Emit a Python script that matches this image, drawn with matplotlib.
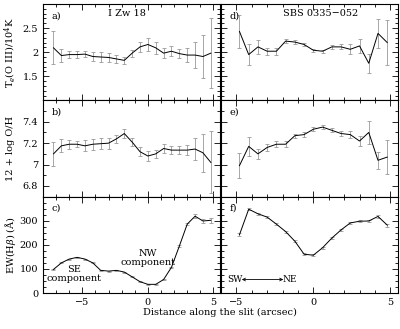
import matplotlib
matplotlib.use("Agg")
import matplotlib.pyplot as plt
from matplotlib.ticker import MultipleLocator

plt.rcParams['font.family'] = ['DejaVu Serif']
plt.rcParams['mathtext.fontset'] = 'dejavuserif'

# I Zw 18 (left column)
x_izw = [-7.2, -6.6, -6.0, -5.4, -4.8, -4.2, -3.6, -3.0, -2.4, -1.8, -1.2,
         -0.6, 0.0, 0.6, 1.2, 1.8, 2.4, 3.0, 3.6, 4.2, 4.8]
te_izw = [2.09, 1.93, 1.95, 1.95, 1.96, 1.91, 1.90, 1.89, 1.86, 1.83, 1.98,
          2.11, 2.16, 2.09, 1.98, 2.02, 1.97, 1.94, 1.94, 1.91, 1.98]
te_izw_err = [0.34, 0.13, 0.08, 0.07, 0.07, 0.10, 0.10, 0.10, 0.08, 0.07, 0.07,
              0.10, 0.13, 0.12, 0.10, 0.10, 0.10, 0.14, 0.27, 0.45, 0.73]
oh_izw = [7.10, 7.175, 7.19, 7.19, 7.175, 7.19, 7.195, 7.20, 7.24, 7.29, 7.21,
          7.12, 7.08, 7.10, 7.15, 7.135, 7.135, 7.135, 7.145, 7.11, 7.02]
oh_izw_err = [0.11, 0.06, 0.04, 0.03, 0.05, 0.05, 0.05, 0.05, 0.04, 0.04, 0.04,
              0.04, 0.05, 0.04, 0.04, 0.04, 0.04, 0.05, 0.10, 0.18, 0.29]
ew_izw = [98, 125, 141, 148, 141, 125, 94, 91, 94, 87, 67,
          47, 36, 36, 56, 107, 195, 286, 319, 299, 302]
ew_izw_err = [2, 2, 2, 2, 2, 2, 2, 2, 2, 2, 2,
              2, 2, 2, 2, 2, 3, 5, 8, 10, 10]

# SBS 0335-052 (right column)
x_sbs = [-4.8, -4.2, -3.6, -3.0, -2.4, -1.8, -1.2, -0.6, 0.0, 0.6, 1.2,
         1.8, 2.4, 3.0, 3.6, 4.2, 4.8]
te_sbs = [2.43, 1.95, 2.11, 2.02, 2.02, 2.23, 2.21, 2.16, 2.04, 2.02, 2.11,
          2.11, 2.06, 2.13, 1.77, 2.39, 2.20]
te_sbs_err = [0.34, 0.21, 0.14, 0.07, 0.07, 0.04, 0.04, 0.03, 0.03, 0.03, 0.04,
              0.05, 0.10, 0.14, 0.20, 0.30, 0.46]
oh_sbs = [6.99, 7.17, 7.10, 7.16, 7.19, 7.19, 7.27, 7.28, 7.33, 7.35, 7.32,
          7.29, 7.28, 7.22, 7.30, 7.04, 7.07]
oh_sbs_err = [0.12, 0.09, 0.05, 0.03, 0.03, 0.03, 0.02, 0.02, 0.02, 0.02, 0.02,
              0.02, 0.03, 0.05, 0.11, 0.08, 0.16]
ew_sbs = [242, 348, 329, 315, 286, 255, 215, 161, 157, 188, 228,
          262, 291, 298, 299, 318, 282]
ew_sbs_err = [6, 5, 4, 4, 4, 4, 4, 4, 4, 4, 4,
              4, 4, 4, 5, 6, 6]

fig = plt.figure(figsize=(4.0, 3.29), dpi=100)

lefts = [0.1075, 0.5525]
width = 0.4425
bottom0 = 0.1094
h = 0.2928
fs = 7

cols = [
    (x_izw, [(te_izw, te_izw_err), (oh_izw, oh_izw_err), (ew_izw, ew_izw_err)], (-8, 5.5)),
    (x_sbs, [(te_sbs, te_sbs_err), (oh_sbs, oh_sbs_err), (ew_sbs, ew_sbs_err)], (-6, 5.5)),
]
ylims = [(1.0, 3.0), (6.7, 7.6), (0, 400)]
yticks = [[1.5, 2, 2.5], [6.8, 7.0, 7.2, 7.4], [0, 100, 200, 300]]
ytlabels = [['1.5', '2', '2.5'], ['6.8', '7', '7.2', '7.4'], ['0', '100', '200', '300']]
ymin = [0.1, 0.1, 25]
letters = [['a)', 'b)', 'c)'], ['d)', 'e)', 'f)']]
ylabels = ['T$_e$(O III)/10$^4$K', '12 + log O/H', r'EW(H$\beta$) ($\rm\AA$)']

axes = {}
for c, (xs, series, xl) in enumerate(cols):
    for r in range(3):
        ax = fig.add_axes([lefts[c], bottom0 + (2 - r) * h, width, h])
        ys, es = series[r]
        ax.errorbar(xs, ys, yerr=es, color='k', lw=0.7, ecolor='0.6',
                    elinewidth=0.6, capsize=1.2, capthick=0.6)
        ax.set_xlim(*xl)
        ax.set_ylim(*ylims[r])
        ax.xaxis.set_major_locator(MultipleLocator(5))
        ax.xaxis.set_minor_locator(MultipleLocator(1))
        ax.set_yticks(yticks[r])
        ax.yaxis.set_minor_locator(MultipleLocator(ymin[r]))
        ax.tick_params(which='both', direction='in', top=True, right=True,
                       labelsize=fs, width=0.6)
        ax.tick_params(which='major', length=4)
        ax.tick_params(which='minor', length=2)
        for s in ax.spines.values():
            s.set_linewidth(0.8)
        if r < 2:
            ax.tick_params(labelbottom=False)
        if c == 1:
            ax.tick_params(labelleft=False)
        else:
            ax.set_yticklabels(ytlabels[r])
            ax.set_ylabel(ylabels[r], fontsize=fs, va='center')
            ax.yaxis.set_label_coords(-0.185, 0.5)
        ax.text(0.05, 0.88, letters[c][r], transform=ax.transAxes, fontsize=fs,
                ha='left', va='center')
        axes[(c, r)] = ax

axes[(0, 0)].text(-1.6, 2.80, 'I Zw 18', fontsize=fs, ha='center', va='center')
axes[(1, 0)].text(0.5, 2.80, 'SBS 0335\u2212052', fontsize=fs, ha='center', va='center')

axc = axes[(0, 2)]
axc.text(-5.6, 78, 'SE\ncomponent', fontsize=fs, ha='center', va='center', linespacing=1.0)
axc.text(0.0, 147, 'NW\ncomponent', fontsize=fs, ha='center', va='center', linespacing=1.0)

axf = axes[(1, 2)]
axf.text(-5.07, 56, 'SW', fontsize=6.5, ha='center', va='center')
axf.text(-1.56, 56, 'NE', fontsize=6.5, ha='center', va='center')
axf.annotate('', xy=(-1.95, 56), xytext=(-4.65, 56),
             arrowprops=dict(arrowstyle='<->', lw=0.6, mutation_scale=5, color='k',
                             shrinkA=0, shrinkB=0))

fig.text(0.55, 0.049, 'Distance along the slit (arcsec)', fontsize=fs,
         ha='center', va='center')

fig.savefig('out.png', dpi=100)
